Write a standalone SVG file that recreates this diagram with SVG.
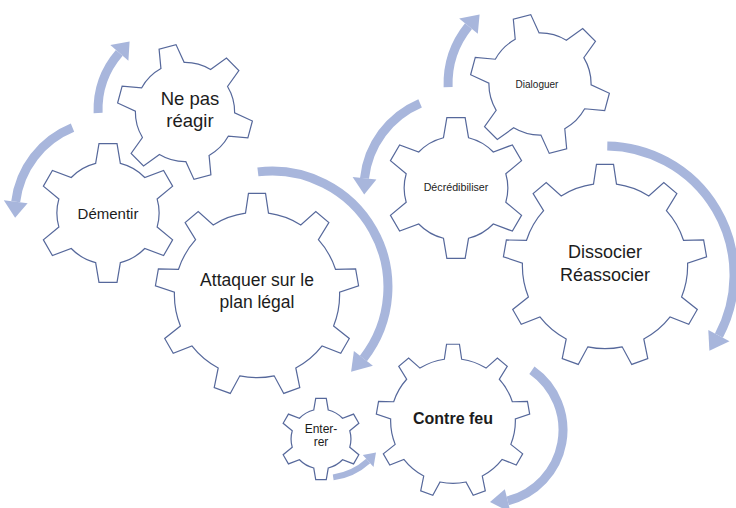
<svg xmlns="http://www.w3.org/2000/svg" width="736" height="508" viewBox="0 0 736 508">
<style>
.g{fill:#ffffff;stroke:#56689B;stroke-width:1.2}
.t{font-family:"Liberation Sans",Arial,sans-serif;fill:#1c1c1c;text-anchor:middle}
.b{font-weight:bold}
.a{fill:none;stroke:#A8B6DC;stroke-width:9}
.as{fill:none;stroke:#A8B6DC;stroke-width:6}
.ah{fill:#A8B6DC}
</style>
<defs>
<path id="gear9" vector-effect="non-scaling-stroke" d="M-11.27,-80.21 L-8.37,-99.65 L8.37,-99.65 L11.27,-80.21 A81,81 0 0 1 42.92,-68.69 L57.64,-81.71 L70.46,-70.96 L60.19,-54.2 A81,81 0 0 1 77.04,-25.03 L96.68,-25.55 L99.59,-9.06 L80.95,-2.83 A81,81 0 0 1 75.1,30.34 L90.48,42.58 L82.12,57.07 L63.83,49.87 A81,81 0 0 1 38.03,71.52 L41.95,90.78 L26.22,96.5 L16.84,79.23 A81,81 0 0 1 -16.84,79.23 L-26.22,96.5 L-41.95,90.78 L-38.03,71.52 A81,81 0 0 1 -63.83,49.87 L-82.12,57.07 L-90.48,42.58 L-75.1,30.34 A81,81 0 0 1 -80.95,-2.83 L-99.59,-9.06 L-96.68,-25.55 L-77.04,-25.03 A81,81 0 0 1 -60.19,-54.2 L-70.46,-70.96 L-57.64,-81.71 L-42.92,-68.69 A81,81 0 0 1 -11.27,-80.21 Z"/>
<path id="gear6" vector-effect="non-scaling-stroke" d="M-17.66,-70.83 L-12.88,-99.17 L12.88,-99.17 L17.66,-70.83 A73,73 0 0 1 52.51,-50.71 L79.42,-60.74 L92.32,-38.43 L70.17,-20.12 A73,73 0 0 1 70.17,20.12 L92.32,38.43 L79.42,60.74 L52.51,50.71 A73,73 0 0 1 17.66,70.83 L12.88,99.17 L-12.88,99.17 L-17.66,70.83 A73,73 0 0 1 -52.51,50.71 L-79.42,60.74 L-92.32,38.43 L-70.17,20.12 A73,73 0 0 1 -70.17,-20.12 L-92.32,-38.43 L-79.42,-60.74 L-52.51,-50.71 A73,73 0 0 1 -17.66,-70.83 Z"/>
</defs>
<rect width="736" height="508" fill="#ffffff"/>
<g id="node-attaquer">
<use href="#gear9" class="g" transform="translate(257,295) scale(1.02)"/>
<text class="t" x="257" y="286" font-size="17.5">Attaquer sur le</text>
<text class="t" x="257" y="308" font-size="17.5">plan légal</text>
</g>
<g id="node-dissocier">
<use href="#gear9" class="g" transform="translate(605,266) scale(1.02)"/>
<text class="t" x="605" y="258" font-size="18">Dissocier</text>
<text class="t" x="605" y="281" font-size="18">Réassocier</text>
</g>
<g id="node-contrefeu">
<use href="#gear9" class="g" transform="translate(453,421) scale(0.77)"/>
<text class="t b" x="453" y="424" font-size="16">Contre feu</text>
</g>
<g id="node-dementir">
<use href="#gear6" class="g" transform="translate(108,213) scale(0.7)"/>
<text class="t" x="108" y="219" font-size="15">Démentir</text>
</g>
<g id="node-nepasreagir">
<use href="#gear6" class="g" transform="translate(185,112) rotate(-15) scale(0.68)"/>
<text class="t" x="190" y="105" font-size="18.5">Ne pas</text>
<text class="t" x="190" y="127" font-size="18.5">réagir</text>
</g>
<g id="node-dialoguer">
<use href="#gear6" class="g" transform="translate(540,84) rotate(-15) scale(0.7)"/>
<text class="t" x="537" y="88" font-size="10">Dialoguer</text>
</g>
<g id="node-decredibiliser">
<use href="#gear6" class="g" transform="translate(456,188) scale(0.71)"/>
<text class="t" x="456" y="191" font-size="10.7">Décrédibiliser</text>
</g>
<g id="node-enterrer">
<use href="#gear6" class="g" transform="translate(321,439) scale(0.41)"/>
<text class="t" x="321" y="433" font-size="12">Enter-</text>
<text class="t" x="321" y="446" font-size="12">rer</text>
</g>
<g id="connectors">
<path class="a" d="M98.1,113 A87,87 0 0 1 119.3,52.9"/>
<polygon class="ah" points="128.4,60.8 110.3,45 129.6,41.6"/>
<path class="a" d="M72.5,127.7 A92,92 0 0 0 15.7,201.8"/>
<polygon class="ah" points="27.6,203.2 3.8,200.3 15.1,217.8"/>
<path class="a" d="M257.9,171.9 A116,116 0 0 1 363.4,358.4"/>
<polygon class="ah" points="353.9,351 372.9,365.8 351.1,371.8"/>
<path class="a" d="M448.1,87.2 A92,92 0 0 1 468.5,26.1"/>
<polygon class="ah" points="477.8,33.7 459.2,18.6 479.6,14.6"/>
<path class="a" d="M420.1,103.3 A92,92 0 0 0 364.5,178.4"/>
<polygon class="ah" points="376.4,179.6 352.6,177.1 364.2,194.4"/>
<path class="a" d="M607.3,146 A129,129 0 0 1 718.9,335.6"/>
<polygon class="ah" points="708.3,329.9 729.5,341.2 709.4,350.8"/>
<path class="a" d="M531.9,370.2 A73,73 0 0 1 507.7,500.8"/>
<polygon class="ah" points="504.8,489.2 510.6,512.5 490,502"/>
<path class="as" d="M333.2,477.4 A66,66 0 0 0 368.2,461"/>
<polygon class="ah" points="362.8,455.1 373.5,467 376,452.6"/>
</g>
</svg>
